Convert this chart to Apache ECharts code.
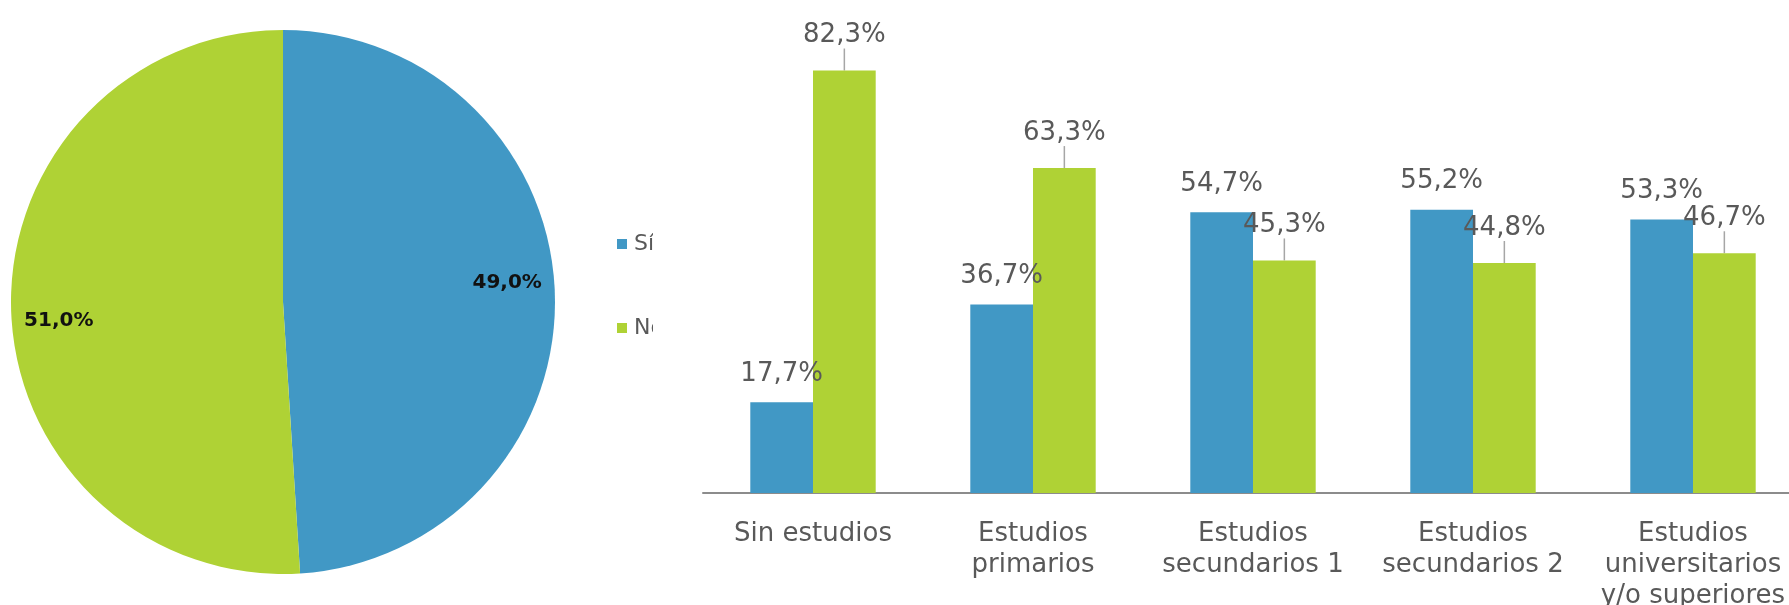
<!DOCTYPE html>
<html><head><meta charset="utf-8">
<script src="https://cdn.jsdelivr.net/npm/echarts@6/dist/echarts.min.js"></script>
<style>html,body{margin:0;padding:0;background:#fff}#c{width:1789px;height:605px}</style>
</head><body><div id="c"></div>
<script>
const pieNames = ['Sí', 'No'];
const pieValues = [49.0, 51.0];
const categories = ['Sin estudios', 'Estudios\nprimarios', 'Estudios\nsecundarios 1', 'Estudios\nsecundarios 2', 'Estudios\nuniversitarios\ny/o superiores'];
const siValues = [17.7, 36.7, 54.7, 55.2, 53.3];
const noValues = [82.3, 63.3, 45.3, 44.8, 46.7];

const BLUE = '#4198C5', GREEN = '#AFD235', GREY = '#595959';
const FONT = 'DejaVu Sans';
const fmt = v => v.toFixed(1).replace('.', ',') + '%';
const pieData = pieNames.map((n, i) => ({ name: n, value: pieValues[i] }));

const chart = echarts.init(document.getElementById('c'));
chart.setOption({
  animation: false,
  color: [BLUE, GREEN],
  legend: {
    orient: 'vertical', left: 612, top: 228, itemWidth: 10, itemHeight: 10, itemGap: 62,
    icon: 'rect', data: pieNames,
    textStyle: { fontFamily: FONT, fontSize: 22, color: GREY, padding: [0, 0, 0, 2] }
  },
  graphic: [{ type: 'rect', left: 653, top: 200, shape: { width: 47, height: 180 }, style: { fill: '#fff' }, z: 100, silent: true }],
  grid: { left: 703, top: 31, width: 1100, bottom: 112, outerBoundsMode: 'none', containLabel: false },
  xAxis: {
    type: 'category', data: categories,
    axisLine: { lineStyle: { color: '#8c8c8c', width: 2 } },
    axisTick: { show: false },
    axisLabel: { interval: 0, color: GREY, fontFamily: FONT, fontSize: 26, lineHeight: 31, margin: 26 }
  },
  yAxis: { type: 'value', min: 0, max: 90, show: false },
  series: [
    { type: 'pie', radius: 272, center: [283, 302], startAngle: 90, clockwise: true, data: pieData,
      label: { show: false }, labelLine: { show: false }, itemStyle: { borderWidth: 0 } },
    { type: 'pie', radius: [172, 272], center: [283, 302], startAngle: 93, clockwise: true, data: pieData,
      silent: true, legendHoverLink: false, itemStyle: { color: 'transparent', borderWidth: 0 },
      label: { show: true, position: 'inside', formatter: p => fmt(p.value), fontFamily: FONT, fontWeight: 'bold', fontSize: 20, color: '#111' },
      labelLine: { show: false } },
    { type: 'bar', name: 'Sí', data: siValues, barGap: '0%', barCategoryGap: '43%', itemStyle: { color: BLUE },
      label: { show: true, position: 'top', distance: 15, formatter: p => fmt(p.value), fontFamily: FONT, fontSize: 26, color: GREY } },
    { type: 'bar', name: 'No', data: noValues, itemStyle: { color: GREEN },
      label: { show: true, position: 'top', distance: 3, formatter: p => fmt(p.value), fontFamily: FONT, fontSize: 26, color: GREY },
      labelLayout: { dy: -19 },
      labelLine: { show: true, lineStyle: { color: '#a6a6a6', width: 1.5 } } }
  ]
});
</script></body></html>
